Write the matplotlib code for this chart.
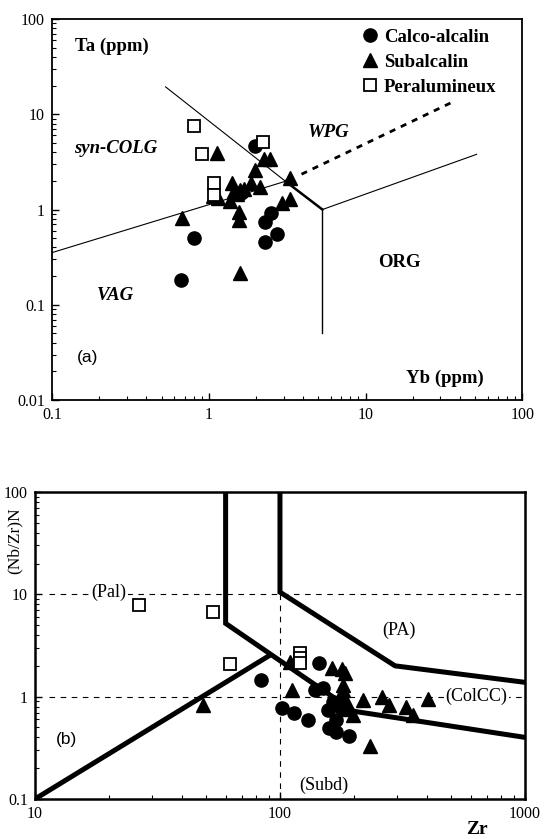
import numpy as np
import matplotlib
matplotlib.use("Agg")
import matplotlib.pyplot as plt

plt.rcParams['font.family'] = 'Liberation Serif'

# ---- panel (a): Ta vs Yb (ppm) ----
ca_yb = [0.66, 0.81, 1.97, 1.60, 2.29, 2.29, 2.48, 2.71]
ca_ta = [0.18, 0.50, 4.70, 1.50, 0.46, 0.745, 0.92, 0.56]

sub_yb = [0.67, 1.12, 1.07, 1.15, 1.40, 1.37, 1.51, 1.55, 1.55, 1.58, 1.68, 1.87,
          2.12, 1.97, 2.25, 2.45, 3.30, 2.92, 3.30, 1.58, 1.45]
sub_ta = [0.81, 3.95, 1.38, 1.33, 1.90, 1.22, 1.44, 0.95, 0.78, 1.60, 1.65, 1.88,
          1.73, 2.60, 3.40, 3.40, 2.12, 1.16, 1.28, 0.214, 1.55]

per_yb = [0.80, 0.91, 1.08, 1.08, 2.23]
per_ta = [7.5, 3.83, 1.91, 1.42, 5.1]

# ---- panel (b): (Nb/Zr)N vs Zr ----
ca_zr = [84, 101.6, 114, 130.6, 144.6, 139, 150, 157, 170, 159, 170, 192, 165, 176]
ca_nbzr = [1.46, 0.77, 0.70, 0.59, 2.15, 1.16, 1.21, 0.74, 0.59, 0.49, 0.455, 0.41, 0.89, 0.80]

sub_zr = [48.3, 111.6, 110, 162.6, 178.6, 184, 181, 178, 187, 199, 219, 260, 279,
          327, 350, 403, 233, 180, 185]
sub_nbzr = [0.82, 1.16, 2.2, 1.89, 1.85, 1.69, 1.16, 1.0, 0.86, 0.66, 0.93, 0.99, 0.83,
            0.80, 0.66, 0.94, 0.33, 1.3, 0.75]

per_zr = [26.5, 53.5, 62.5, 121, 121, 121]
per_nbzr = [7.8, 6.65, 2.08, 2.7, 2.4, 2.15]

fig = plt.figure(figsize=(5.45, 8.39), dpi=100)

# ================= (a) =================
ax1 = fig.add_axes([0.0954, 0.5232, 0.8633, 0.4541])
ax1.set_xscale('log')
ax1.set_yscale('log')
ax1.set_xlim(0.1, 100)
ax1.set_ylim(0.01, 100)

# field boundaries
ax1.plot([0.1, 3.08], [0.353, 1.98], color='k', lw=0.8)
ax1.plot([0.53, 3.08], [19.4, 1.98], color='k', lw=0.8)
ax1.plot([3.08, 5.3], [1.98, 1.0], color='k', lw=1.8)
ax1.plot([5.3, 5.3], [1.0, 0.05], color='k', lw=1.0)
ax1.plot([5.3, 51], [1.0, 3.8], color='k', lw=0.8)
ax1.plot([3.9, 36], [2.35, 13.5], color='k', lw=2.0, ls=(0, (2.2, 2.2)))

ax1.plot(ca_yb, ca_ta, 'o', color='k', ms=9.5, label='Calco-alcalin')
ax1.plot(sub_yb, sub_ta, '^', color='k', ms=10, label='Subalcalin')
ax1.plot(per_yb, per_ta, 's', mfc='white', mec='k', mew=1.3, ms=9, label='Peralumineux')

bold = dict(fontweight='bold', fontsize=13.5)
ax1.text(0.141, 52, 'Ta (ppm)', ha='left', va='center', **bold)
ax1.text(0.254, 4.4, 'syn-COLG', ha='center', va='center', style='italic', **bold)
ax1.text(5.8, 6.5, 'WPG', ha='center', va='center', style='italic', **bold)
ax1.text(16.5, 0.277, 'ORG', ha='center', va='center', **bold)
ax1.text(0.254, 0.125, 'VAG', ha='center', va='center', style='italic', **bold)
ax1.text(0.168, 0.0283, '(a)', ha='center', va='center', family='Liberation Sans', fontsize=12.5)
ax1.text(32, 0.0168, 'Yb (ppm)', ha='center', va='center', **bold)

ax1.legend(loc='upper left', bbox_to_anchor=(0.628, 1.005), frameon=False,
           prop={'family': 'Liberation Serif', 'weight': 'bold', 'size': 13.5},
           handletextpad=0.15, labelspacing=0.42, handlelength=1.2, borderaxespad=0.2)

ax1.set_xticks([0.1, 1, 10, 100])
ax1.set_xticklabels(['0.1', '1', '10', '100'])
ax1.set_yticks([0.01, 0.1, 1, 10, 100])
ax1.set_yticklabels(['0.01', '0.1', '1', '10', '100'])

# ================= (b) =================
ax2 = fig.add_axes([0.0642, 0.0477, 0.899, 0.3659])
ax2.set_xscale('log')
ax2.set_yscale('log')
ax2.set_xlim(10, 1000)
ax2.set_ylim(0.1, 100)

dash = dict(color='k', lw=0.8, ls=(0, (5, 5)))
ax2.plot([11.4, 1000], [10, 10], **dash)
ax2.plot([11.4, 1000], [1, 1], **dash)
ax2.plot([100, 100], [10, 0.1], **dash)

thick = dict(color='k', lw=3.6, solid_joinstyle='miter')
ax2.plot([10, 90], [0.1, 2.5], **thick)
ax2.plot([60, 60, 200, 1000], [100, 5.2, 0.72, 0.40], **thick)
ax2.plot([100, 100, 295, 1000], [100, 10.5, 2.0, 1.38], **thick)

ax2.plot(ca_zr, ca_nbzr, 'o', color='k', ms=9.5)
ax2.plot(sub_zr, sub_nbzr, '^', color='k', ms=10)
ax2.plot(per_zr, per_nbzr, 's', mfc='white', mec='k', mew=1.3, ms=9)

wb = dict(facecolor='white', edgecolor='none', pad=1)
ax2.text(20, 10.4, '(Pal)', ha='center', va='center', fontsize=13, bbox=wb)
ax2.text(305, 4.4, '(PA)', ha='center', va='center', fontsize=13)
ax2.text(634, 1.0, '(ColCC)', ha='center', va='center', fontsize=13, bbox=wb)
ax2.text(151, 0.135, '(Subd)', ha='center', va='center', fontsize=13)
ax2.text(13.4, 0.381, '(b)', ha='center', va='center', family='Liberation Sans', fontsize=12.5)
ax2.text(0.902, -0.10, 'Zr', transform=ax2.transAxes, ha='center', va='center',
         fontweight='bold', fontsize=14)
ax2.text(-0.042, 0.84, '(Nb/Zr)N', transform=ax2.transAxes, rotation=90,
         ha='center', va='center', fontsize=12.5)

ax2.set_xticks([10, 100, 1000])
ax2.set_xticklabels(['10', '100', '1000'])
ax2.set_yticks([0.1, 1, 10, 100])
ax2.set_yticklabels(['0.1', '1', '10', '100'])

for ax, lw in ((ax1, 1.3), (ax2, 1.8)):
    for s in ax.spines.values():
        s.set_linewidth(lw)
    ax.tick_params(which='both', direction='in', top=False, right=False,
                   labelsize=11.5, pad=5)
    ax.tick_params(which='major', length=5, width=1)
    ax.tick_params(which='minor', length=3, width=0.8)
    for lab in ax.get_xticklabels() + ax.get_yticklabels():
        lab.set_fontfamily('Liberation Serif')

plt.savefig('out.png', dpi=100)
